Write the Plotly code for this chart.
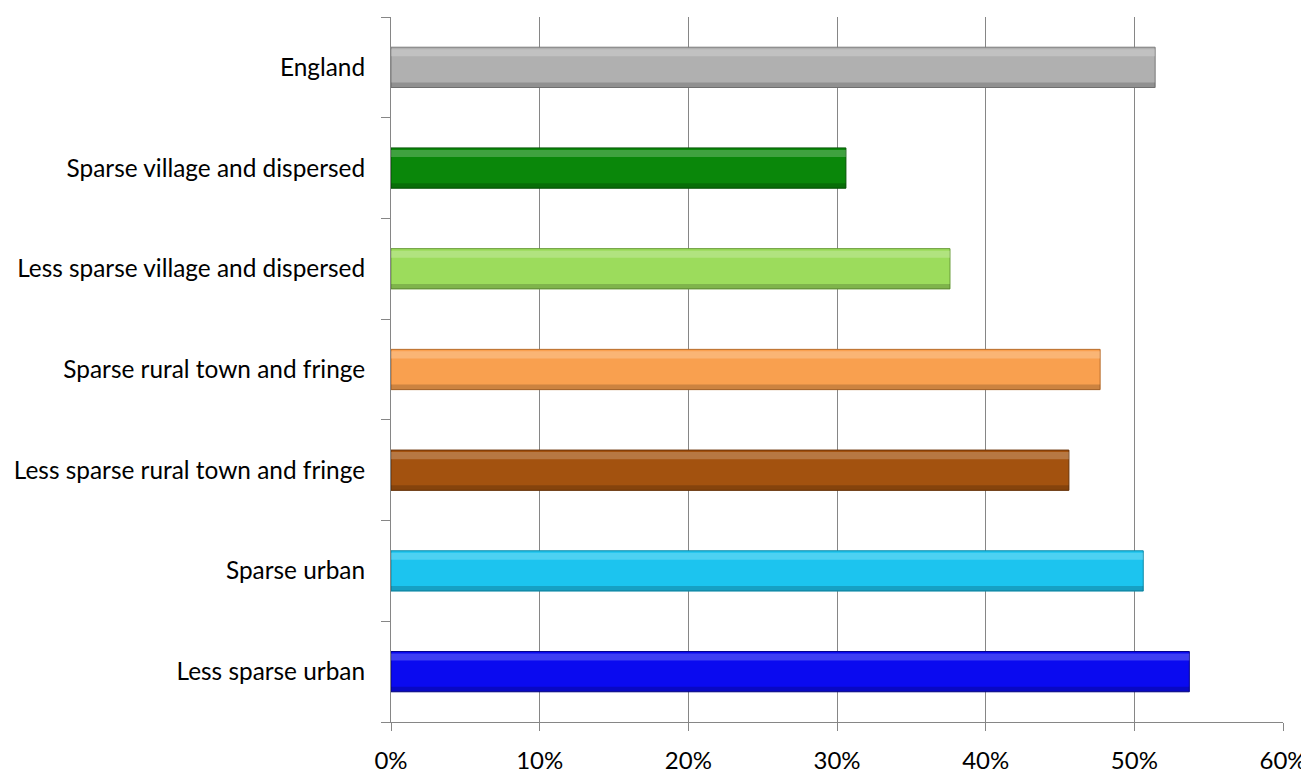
import plotly.graph_objects as go

categories = [
    "Less sparse urban",
    "Sparse urban",
    "Less sparse rural town and fringe",
    "Sparse rural town and fringe",
    "Less sparse village and dispersed",
    "Sparse village and dispersed",
    "England",
]
values = [0.537, 0.506, 0.456, 0.477, 0.376, 0.306, 0.514]
bar_colors = ["#0a0af0", "#1cc4ef", "#a3520f", "#f9a04f", "#9cdc5c", "#0a870a", "#b0b0b0"]
edge_colors = ["#04048a", "#0f8aa8", "#6a3308", "#b86d2c", "#6a9c3a", "#055505", "#7a7a7a"]
x_ticks = [0, 0.1, 0.2, 0.3, 0.4, 0.5, 0.6]
x_tick_labels = ["0%", "10%", "20%", "30%", "40%", "50%", "60%"]

fig = go.Figure()
# main bars
fig.add_trace(go.Bar(
    y=categories,
    x=values,
    orientation="h",
    width=0.4,
    offset=-0.2,
    marker=dict(color=bar_colors, line=dict(color=edge_colors, width=1)),
    hoverinfo="x+y",
))
# soft top highlight (bevel look)
fig.add_trace(go.Bar(
    y=categories,
    x=values,
    orientation="h",
    width=0.07,
    offset=0.11,
    marker=dict(color="rgba(255,255,255,0.22)", line=dict(width=0)),
    hoverinfo="skip",
))
# darker bottom edge (bevel look)
fig.add_trace(go.Bar(
    y=categories,
    x=values,
    orientation="h",
    width=0.05,
    offset=-0.2,
    marker=dict(color="rgba(0,0,0,0.18)", line=dict(width=0)),
    hoverinfo="skip",
))

axis_grey = "#868686"
font = dict(family="Lato, Open Sans, sans-serif", size=24.4, color="#000000")
xfont = dict(family="Lato, Open Sans, sans-serif", size=24, color="#000000")

fig.update_layout(
    width=1309,
    height=776,
    margin=dict(l=383, r=34, t=9, b=62, autoexpand=False),
    paper_bgcolor="white",
    plot_bgcolor="white",
    barmode="overlay",
    showlegend=False,
    font=font,
    xaxis=dict(
        range=[0, 0.6],
        tickvals=x_ticks,
        ticktext=x_tick_labels,
        showgrid=True,
        gridcolor=axis_grey,
        gridwidth=1,
        zeroline=False,
        showline=True,
        linecolor=axis_grey,
        linewidth=1,
        ticks="outside",
        ticklen=8,
        tickcolor=axis_grey,
        tickfont=xfont,
        ticklabelstandoff=9,
        automargin=False,
        fixedrange=True,
    ),
    yaxis=dict(
        categoryorder="array",
        categoryarray=categories,
        showgrid=False,
        zeroline=False,
        showline=True,
        linecolor=axis_grey,
        linewidth=1,
        ticks="outside",
        tickson="boundaries",
        ticklen=9,
        tickcolor=axis_grey,
        tickfont=font,
        ticklabelstandoff=20,
        automargin=False,
        fixedrange=True,
    ),
)

fig.write_html("out.html")
